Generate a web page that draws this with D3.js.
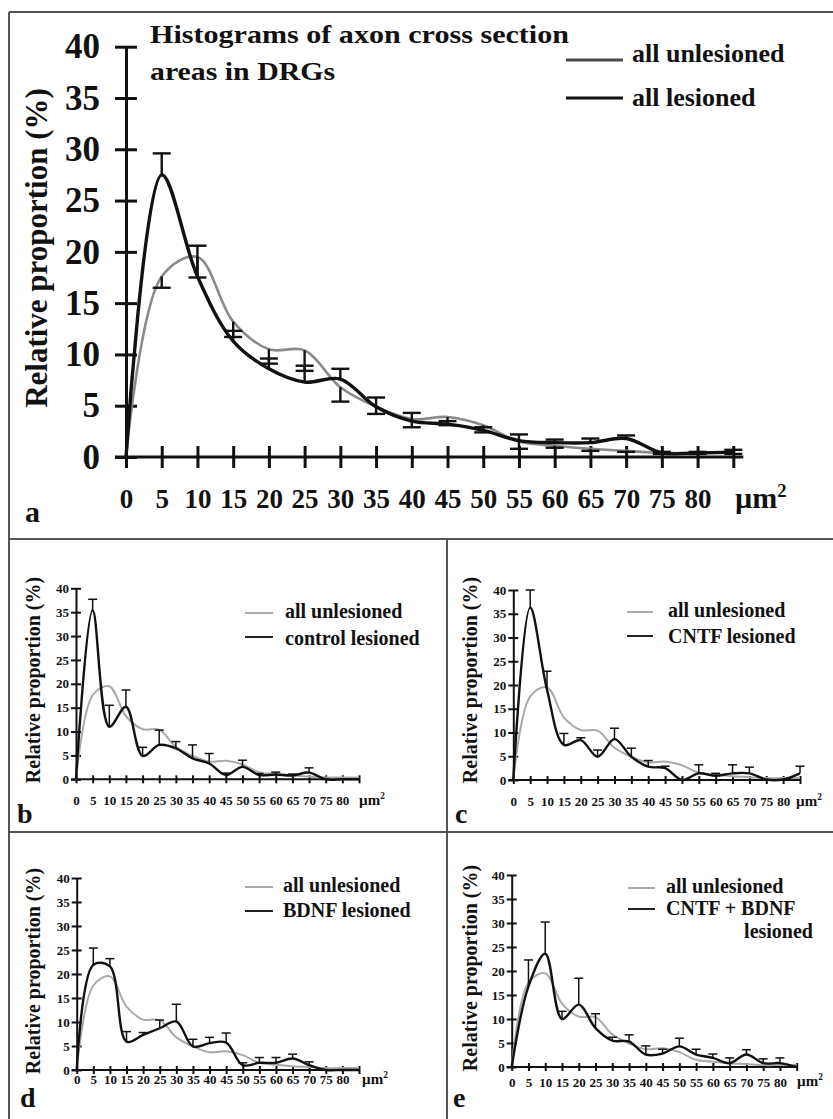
<!DOCTYPE html>
<html>
<head>
<meta charset="utf-8">
<script src="https://cdn.jsdelivr.net/npm/d3@7"></script>
<style>
  body { margin: 0; background: #fff; }
  svg text { font-family: "Liberation Serif", "Times New Roman", serif; font-weight: bold; fill: #111; }
</style>
</head>
<body>
<svg id="chart" width="833" height="1119"></svg>
<script>
// bins of axon cross section area (µm²)
const bins = [0, 5, 10, 15, 20, 25, 30, 35, 40, 45, 50, 55, 60, 65, 70, 75, 80, 85];
const xTickLabels = ["0", "5", "10", "15", "20", "25", "30", "35", "40", "45", "50", "55", "60", "65", "70", "75", "80", ""];
const yTicks = [0, 5, 10, 15, 20, 25, 30, 35, 40];

// all unlesioned (grey curve, same in every panel)
const unlesioned = [0, 17.6, 19.5, 13.2, 10.5, 10.4, 6.8, 4.9, 3.7, 3.9, 3.1, 1.5, 1.1, 0.8, 0.6, 0.4, 0.4, 0.4];
const unlesionedErrA = [0, 1.1, 2.0, 1.5, 1.4, 2.0, 1.4, 0.7, 0.8, 0.8, 0.7, 0.7, 0.2, 0.2, 0.1, 0.1, 0.1, 0.1];

// a: all lesioned
const lesionedA = [0, 27.5, 17.6, 11.3, 8.6, 7.3, 7.6, 4.9, 3.5, 3.2, 2.6, 1.6, 1.4, 1.4, 1.8, 0.4, 0.4, 0.5];
const lesionedErrA = [0, 2.1, 3.0, 1.0, 1.0, 1.6, 1.0, 0.9, 0.8, 0.3, 0.3, 0.6, 0.3, 0.4, 0.3, 0.1, 0.1, 0.2];

// b: control lesioned
const controlLesioned = [0, 35.4, 11.0, 15.2, 4.9, 7.2, 6.5, 4.4, 3.3, 0.9, 2.6, 0.9, 1.0, 0.8, 1.4, 0, 0, 0];
const controlErr = [0, 2.3, 4.5, 3.5, 1.8, 3.1, 1.4, 2.8, 2.1, 0.4, 1.4, 0.3, 0.5, 0.3, 1.0, 0, 0, 0];

// c: CNTF lesioned
const cntfLesioned = [0, 36.3, 19.0, 7.4, 8.4, 4.9, 8.6, 4.9, 2.8, 2.5, 0, 1.4, 0.9, 1.4, 1.4, 0.1, 0.1, 1.4];
const cntfErr = [0, 3.7, 3.9, 2.4, 0.5, 1.4, 2.3, 1.8, 1.3, 0.4, 0, 1.8, 0.5, 1.8, 1.3, 0, 0, 1.5];

// d: BDNF lesioned
const bdnfLesioned = [0, 21.9, 21.6, 5.9, 7.3, 8.7, 10.1, 4.9, 5.6, 5.7, 1.0, 1.5, 1.5, 2.4, 1.0, 0, 0, 0];
const bdnfErr = [0, 3.5, 1.6, 2.1, 0.5, 1.7, 3.6, 1.5, 1.2, 2.0, 0.5, 1.1, 1.1, 0.9, 0.7, 0, 0, 0];

// e: CNTF + BDNF lesioned
const comboLesioned = [0, 16.8, 23.6, 10.0, 13.0, 8.1, 5.5, 5.3, 2.6, 2.8, 4.3, 2.6, 1.9, 0.8, 2.6, 0.8, 0.8, 0];
const comboErr = [0, 5.5, 6.6, 1.6, 5.5, 3.0, 0.7, 1.4, 1.8, 0.9, 1.7, 1.1, 0.8, 1.1, 1.0, 0.9, 1.1, 0];

const svg = d3.select("#chart");

// panel frame lines
const frame = svg.append("g").attr("stroke", "#555").attr("stroke-width", 2);
frame.append("line").attr("x1", 9).attr("y1", 12).attr("x2", 833).attr("y2", 12);
frame.append("line").attr("x1", 9).attr("y1", 12).attr("x2", 9).attr("y2", 1119);
frame.append("line").attr("x1", 9).attr("y1", 539).attr("x2", 833).attr("y2", 539);
frame.append("line").attr("x1", 9).attr("y1", 832).attr("x2", 833).attr("y2", 832);
frame.append("line").attr("x1", 447).attr("y1", 539).attr("x2", 447).attr("y2", 1119);

const big = {
  axisW: 3, yTick: 11, xTick: 11, yFont: 35, xFont: 27, yPad: 15,
  greyW: 2.6, blackW: 3.4, cap: 9, errW: 2.4, titleFont: 31, unitFont: 30, labelFont: 30,
  legFont: 26, legW: 3, grey: "#8a8a8a"
};
const small = {
  axisW: 2, yTick: 5, xTick: 4, yFont: 13, xFont: 13, yPad: 2,
  greyW: 2, blackW: 2.4, cap: 4.5, errW: 1.5, titleFont: 20, unitFont: 15, labelFont: 28,
  legFont: 20, legW: 2, grey: "#a9a9a9"
};

const panels = [
  { les: lesionedA, lesErr: lesionedErrA, unlErr: unlesionedErrA, st: big,
    xr: [126, 733.3], yr: [457, 46.7], xLabOff: 51,
    legend: [
      { t: "all unlesioned", c: "#4a4a4a", lx: [566, 623], ly: 60, tx: 632, ty: 62 },
      { t: "all lesioned", c: "#111", lx: [566, 623], ly: 98, tx: 632, ty: 106 }
    ],
    label: { t: "a", x: 25, y: 522 }, yTitle: { x: 36, y: 248 }, unit: { x: 735, y: 508 } },
  { les: controlLesioned, lesErr: controlErr, st: small,
    xr: [76, 359], yr: [779.3, 588.3], xLabOff: 26,
    legend: [
      { t: "all unlesioned", c: "#aaa", lx: [245, 273], ly: 613, tx: 285, ty: 618 },
      { t: "control lesioned", c: "#222", lx: [245, 273], ly: 637, tx: 285, ty: 645 }
    ],
    label: { t: "b", x: 17, y: 823 }, yTitle: { x: 33, y: 680 }, unit: { x: 359, y: 805 } },
  { les: cntfLesioned, lesErr: cntfErr, st: small,
    xr: [513.3, 800], yr: [780, 590], xLabOff: 26,
    legend: [
      { t: "all unlesioned", c: "#aaa", lx: [627, 653], ly: 612, tx: 668, ty: 617 },
      { t: "CNTF lesioned", c: "#222", lx: [627, 653], ly: 636, tx: 668, ty: 643 }
    ],
    label: { t: "c", x: 455, y: 823 }, yTitle: { x: 470, y: 680 }, unit: { x: 796, y: 806 } },
  { les: bdnfLesioned, lesErr: bdnfErr, st: small,
    xr: [76.7, 359], yr: [1070, 878], xLabOff: 14,
    legend: [
      { t: "all unlesioned", c: "#aaa", lx: [245, 273], ly: 887, tx: 283, ty: 892 },
      { t: "BDNF lesioned", c: "#222", lx: [245, 273], ly: 911, tx: 283, ty: 917 }
    ],
    label: { t: "d", x: 20, y: 1107 }, yTitle: { x: 33, y: 971 }, unit: { x: 362, y: 1084 } },
  { les: comboLesioned, lesErr: comboErr, st: small,
    xr: [511.7, 796.7], yr: [1067, 875], xLabOff: 20,
    legend: [
      { t: "all unlesioned", c: "#aaa", lx: [628, 655], ly: 888, tx: 666, ty: 893 },
      { t: "CNTF + BDNF", c: "#222", lx: [628, 655], ly: 909, tx: 666, ty: 915 },
      { t: "lesioned", tx: 813, ty: 938, anchor: "end" }
    ],
    label: { t: "e", x: 453, y: 1107 }, yTitle: { x: 470, y: 968 }, unit: { x: 797, y: 1086 } }
];

function drawPanel(p) {
  const st = p.st;
  const g = svg.append("g");
  const x = d3.scaleLinear().domain([0, 85]).range(p.xr);
  const y = d3.scaleLinear().domain([0, 40]).range(p.yr);

  // y axis with ticks crossing the line
  g.append("g")
    .attr("transform", `translate(${p.xr[0]},0)`)
    .call(d3.axisLeft(y).tickValues(yTicks).tickSize(st.yTick).tickPadding(st.yPad).tickSizeOuter(0))
    .call(a => a.select(".domain").attr("stroke", "#111").attr("stroke-width", st.axisW))
    .call(a => a.selectAll(".tick line").attr("x1", -st.yTick).attr("x2", st.yTick)
      .attr("stroke", "#111").attr("stroke-width", st.axisW))
    .call(a => a.selectAll(".tick text").attr("font-size", st.yFont).attr("font-family", null));

  // x axis
  const xPad = p.xLabOff - st.xTick - 0.71 * st.xFont;
  g.append("g")
    .attr("transform", `translate(0,${p.yr[0]})`)
    .call(d3.axisBottom(x).tickValues(bins).tickFormat((d, i) => xTickLabels[i])
      .tickSize(st.xTick).tickPadding(xPad).tickSizeOuter(0))
    .call(a => a.select(".domain").attr("stroke", "#111").attr("stroke-width", st.axisW)
      .attr("d", st === big ? `M${x(0) - st.yTick},0H${x(85) + 10}` : `M${x(0) - st.yTick},0H${x(85)}`))
    .call(a => a.selectAll(".tick line").attr("y1", -st.xTick).attr("y2", st.xTick)
      .attr("stroke", "#111").attr("stroke-width", st.axisW))
    .call(a => a.selectAll(".tick text").attr("font-size", st.xFont).attr("font-family", null));

  const line = d3.line()
    .x((d, i) => x(bins[i]))
    .y(d => y(d))
    .curve(d3.curveCatmullRom.alpha(0.5));

  g.append("path").datum(unlesioned)
    .attr("d", line).attr("fill", "none")
    .attr("stroke", st.grey).attr("stroke-width", st.greyW);

  g.append("path").datum(p.les)
    .attr("d", line).attr("fill", "none")
    .attr("stroke", "#111").attr("stroke-width", st.blackW);

  // error bars: lesioned upward, unlesioned (panel a) downward
  const bars = [];
  p.les.forEach((v, i) => { if (p.lesErr[i] > 0) bars.push({ i, v, e: v + p.lesErr[i] }); });
  if (p.unlErr) unlesioned.forEach((v, i) => { if (p.unlErr[i] > 0) bars.push({ i, v, e: v - p.unlErr[i] }); });

  const eb = g.append("g").attr("stroke", "#111").attr("stroke-width", st.errW);
  eb.selectAll("line.stem").data(bars).join("line").attr("class", "stem")
    .attr("x1", d => x(bins[d.i])).attr("x2", d => x(bins[d.i]))
    .attr("y1", d => y(d.v)).attr("y2", d => y(d.e));
  eb.selectAll("line.cap").data(bars).join("line").attr("class", "cap")
    .attr("x1", d => x(bins[d.i]) - st.cap).attr("x2", d => x(bins[d.i]) + st.cap)
    .attr("y1", d => y(d.e)).attr("y2", d => y(d.e));

  // y title
  g.append("text")
    .attr("transform", `translate(${p.yTitle.x},${p.yTitle.y}) rotate(-90)`)
    .attr("dy", "0.35em")
    .attr("text-anchor", "middle")
    .attr("font-size", st.titleFont)
    .text("Relative proportion (%)");

  // unit
  const u = g.append("text").attr("x", p.unit.x).attr("y", p.unit.y).attr("font-size", st.unitFont);
  u.append("tspan").text("µm");
  u.append("tspan").attr("font-size", st.unitFont * 0.62).attr("dy", -st.unitFont * 0.38).text("2");

  // legend
  p.legend.forEach(l => {
    if (l.lx) {
      g.append("line").attr("x1", l.lx[0]).attr("x2", l.lx[1]).attr("y1", l.ly).attr("y2", l.ly)
        .attr("stroke", l.c).attr("stroke-width", st.legW);
    }
    g.append("text").attr("x", l.tx).attr("y", l.ty)
      .attr("text-anchor", l.anchor || "start")
      .attr("font-size", st.legFont).text(l.t);
  });

  // panel letter
  g.append("text").attr("x", p.label.x).attr("y", p.label.y)
    .attr("font-size", st.labelFont).text(p.label.t);
}

panels.forEach(drawPanel);

// main title of panel a
svg.append("text").attr("x", 150).attr("y", 43).attr("font-size", 26)
  .attr("textLength", 419).attr("lengthAdjust", "spacingAndGlyphs")
  .text("Histograms of axon cross section");
svg.append("text").attr("x", 150).attr("y", 80).attr("font-size", 26)
  .attr("textLength", 185).attr("lengthAdjust", "spacingAndGlyphs")
  .text("areas in DRGs");
</script>
</body>
</html>
